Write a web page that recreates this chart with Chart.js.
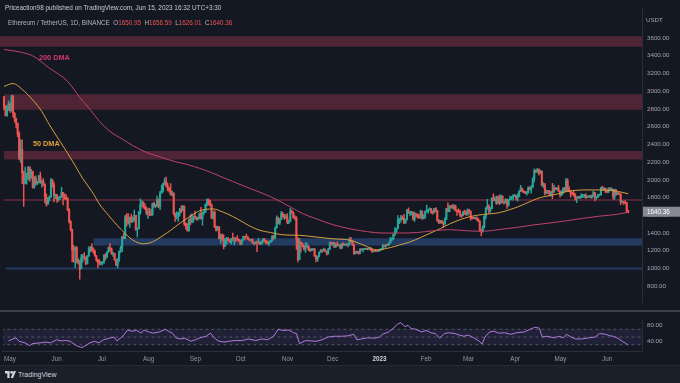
<!DOCTYPE html>
<html><head><meta charset="utf-8">
<script src="https://cdn.jsdelivr.net/npm/chart.js@4.4.1/dist/chart.umd.min.js"></script>
<style>
html,body{margin:0;padding:0;background:#141823;width:680px;height:383px;overflow:hidden;font-family:"Liberation Sans",Arial,sans-serif;}
#wrap{position:relative;width:680px;height:383px;}
#mainBox{position:absolute;left:0;top:0;width:680px;height:311px;}
#rsiBox{position:absolute;left:0;top:312px;width:680px;height:53px;}
#sep{position:absolute;left:0;top:310px;width:680px;height:2px;background:#3c3f48;}
#footer{position:absolute;left:0;top:365px;width:680px;height:18px;background:#1b1f29;border-top:1px solid #262a35;box-sizing:border-box;}
#h1{position:absolute;left:5px;top:4px;font-size:6.4px;color:#c9cbd1;white-space:nowrap;}
#h2{position:absolute;left:8px;top:19px;font-size:6.3px;color:#b2b5be;white-space:nowrap;}
#h2 .r{color:#ef5350;}
#usdt{position:absolute;left:646px;top:16px;font-size:6.2px;color:#a3a6af;}
#tv{position:absolute;left:5px;top:5px;font-size:7px;color:#d1d4dc;display:flex;align-items:center;gap:2px;}
</style></head>
<body><div id="wrap">
<div id="mainBox"><canvas id="main"></canvas></div>
<div id="sep"></div>
<div id="rsiBox"><canvas id="rsi"></canvas></div>
<div id="h1">Priceaction98 published on TradingView.com, Jun 15, 2023 16:32 UTC+3:30</div>
<div id="h2"></div>
<div id="usdt">USDT</div>
<div id="footer"><div id="tv"><svg width="11" height="7" viewBox="0 0 11 7"><path d="M0 0h4.6v7h-2.3v-4.6h-2.3z" fill="#d1d4dc"/><circle cx="6.6" cy="1.4" r="1.4" fill="#d1d4dc"/><path d="M8.6 0h2.4l-2.9 7h-2.4z" fill="#d1d4dc"/></svg><span>TradingView</span></div></div>
</div>
<script>
// ---- DATA (day index 0 = 2022-04-29, last = 2023-06-15) ----
const firstOpen = 2935;
const closes = [
2817,2727,
2825,2857,2782,2940,2748,2694,2636,2518,2243,2342,2080,1961,2014,2056,2145,2023,2090,1914,2018,1960,1975,2043,1972,1978,1943,1804,1725,1793,1812,1996,1942,
1822,1832,1775,1803,1805,1859,1812,1793,1790,1664,1528,1435,1208,1207,1233,1068,1087,995,1127,1127,1124,1051,1143,1225,1242,1198,1192,1143,1098,1067,
1060,1066,1074,1151,1134,1186,1237,1217,1168,1168,1097,1038,1112,1192,1232,1356,1339,1582,1542,1521,1576,1535,1550,1600,1441,1450,1636,1723,1739,1696,1679,
1630,1632,1619,1608,1733,1703,1703,1775,1701,1852,1880,1958,1983,1936,1907,1877,1834,1848,1618,1578,1619,1623,1661,1656,1697,1505,1491,1423,1554,1524,1553,
1587,1577,1557,1576,1617,1563,1629,1635,1717,1778,1763,1715,1573,1637,1471,1434,1470,1336,1378,1324,1254,1328,1328,1316,1294,1335,1331,1337,1334,1328,
1311,1276,1323,1362,1352,1351,1331,1319,1322,1292,1280,1295,1288,1297,1275,1306,1331,1310,1285,1282,1298,1314,1363,1344,1460,1565,1513,1554,1618,1588,1572,
1579,1519,1530,1645,1629,1571,1567,1334,1100,1299,1283,1256,1218,1241,1252,1215,1201,1212,1218,1142,1107,1135,1184,1203,1201,1207,1193,1168,1217,1295,
1276,1293,1241,1280,1259,1270,1232,1281,1264,1265,1263,1274,1319,1308,1266,1166,1187,1186,1169,1216,1211,1216,1219,1221,1218,1226,1212,1189,1200,1199,1196,
1200,1214,1214,1256,1251,1269,1264,1287,1321,1336,1384,1417,1451,1551,1551,1578,1567,1513,1553,1660,1627,1628,1629,1555,1612,1603,1597,1572,1647,1567,1585,
1642,1645,1664,1670,1632,1631,1677,1652,1547,1515,1540,1516,1507,1557,1675,1642,1696,1693,1680,1703,1659,1643,1641,1608,1595,1641,1635,1605,
1663,1647,1569,1566,1564,1565,1561,1533,1438,1429,1472,1591,1679,1703,1656,1676,1792,1764,1784,1735,1805,1741,1818,1750,1741,1776,1713,1774,1792,1795,1821,
1822,1794,1810,1870,1907,1872,1865,1848,1863,1911,1892,1919,2012,2100,2094,2120,2075,2099,1936,1942,1851,1876,1863,1841,1865,1862,1906,1893,1908,1869,
1831,1871,1906,1876,1992,1895,1873,1848,1846,1838,1796,1806,1796,1799,1820,1823,1823,1800,1811,1818,1801,1817,1855,1800,1805,1829,1830,1909,1893,1903,1875,
1863,1908,1892,1892,1813,1888,1832,1848,1838,1751,1752,1742,1738,1650.95,1640.36];
const highs = [
2943,2838,
2837,2891,2868,2955,2952,2759,2696,2640,2541,2452,2450,2100,2145,2077,2150,2143,2118,2100,2036,2045,1986,2055,2088,1998,2013,1955,1839,1797,1820,2016,2003,
1970,1840,1837,1806,1818,1916,1860,1842,1834,1800,1675,1540,1446,1260,1245,1246,1112,1093,1157,1160,1180,1133,1145,1245,1250,1280,1232,1211,1147,1102,
1100,1072,1079,1155,1168,1192,1245,1280,1230,1180,1170,1099,1115,1200,1252,1363,1396,1599,1620,1620,1580,1615,1582,1658,1600,1458,1645,1785,1767,1754,1731,
1695,1676,1682,1666,1737,1749,1725,1816,1785,1869,1942,1962,2020,2030,1964,1914,1958,1873,1855,1626,1640,1629,1680,1706,1713,1706,1515,1508,1560,1604,1616,
1595,1644,1582,1580,1624,1689,1640,1659,1730,1786,1785,1768,1730,1640,1652,1481,1475,1471,1385,1390,1380,1340,1352,1348,1331,1339,1400,1349,1343,1370,
1330,1318,1328,1365,1364,1389,1360,1335,1329,1334,1298,1302,1313,1341,1302,1312,1339,1338,1314,1313,1303,1318,1370,1373,1469,1593,1580,1562,1644,1634,1610,
1609,1620,1545,1680,1661,1640,1598,1587,1345,1341,1300,1287,1265,1291,1290,1260,1229,1225,1225,1225,1147,1140,1185,1213,1205,1230,1223,1197,1227,1300,
1297,1294,1297,1283,1300,1274,1270,1286,1290,1272,1284,1277,1350,1352,1313,1276,1195,1195,1195,1226,1220,1222,1225,1224,1224,1228,1235,1215,1204,1202,1202,
1203,1219,1222,1273,1259,1274,1271,1290,1351,1347,1390,1461,1457,1597,1560,1600,1595,1610,1560,1666,1685,1645,1645,1638,1635,1621,1618,1609,1658,1647,1605,
1650,1716,1671,1685,1680,1650,1680,1687,1655,1548,1543,1544,1527,1574,1677,1742,1712,1711,1722,1720,1715,1660,1674,1659,1612,1643,1659,1647,
1672,1667,1648,1574,1582,1577,1582,1564,1540,1442,1480,1595,1689,1781,1719,1690,1799,1842,1807,1816,1816,1827,1830,1820,1755,1788,1782,1778,1816,1813,1830,
1837,1823,1841,1880,1938,1905,1880,1868,1868,1920,1920,1935,2022,2125,2113,2128,2120,2110,2100,1965,1960,1885,1882,1881,1868,1960,1942,1915,1912,1938,
1875,1878,1910,1916,2018,2010,1924,1875,1860,1875,1842,1808,1815,1818,1846,1832,1833,1846,1818,1822,1825,1832,1872,1858,1812,1838,1835,1918,1926,1915,1907,
1877,1910,1909,1910,1892,1895,1890,1860,1856,1845,1761,1755,1765,1745,1656.59];
const lows = [
2788,2721,
2716,2783,2760,2775,2707,2653,2585,2488,2225,2193,1957,1700,1954,1950,2000,1983,2015,1905,1906,1940,1946,1966,1960,1916,1937,1741,1702,1723,1760,1798,1918,
1752,1788,1745,1760,1780,1802,1717,1779,1777,1651,1512,1423,1075,1070,1010,1060,1048,881,1009,1071,1102,1044,1051,1136,1186,1195,1171,1139,1081,1008,
1040,1040,1041,1058,1098,1120,1182,1197,1160,1137,1092,1033,1006,1076,1180,1190,1335,1335,1480,1500,1462,1521,1519,1535,1430,1356,1447,1610,1695,1680,1666,
1607,1565,1593,1595,1600,1693,1683,1700,1686,1664,1850,1860,1945,1921,1876,1862,1826,1819,1605,1532,1560,1530,1590,1630,1650,1483,1445,1423,1422,1491,1513,
1520,1556,1546,1545,1558,1557,1490,1611,1635,1705,1714,1702,1561,1555,1460,1420,1431,1334,1283,1313,1220,1245,1274,1310,1291,1274,1313,1266,1300,1317,
1305,1266,1270,1320,1321,1345,1324,1310,1309,1285,1265,1277,1190,1284,1268,1274,1295,1299,1278,1274,1254,1295,1308,1327,1336,1455,1506,1495,1550,1578,1553,
1566,1507,1507,1527,1620,1570,1552,1215,1073,1100,1185,1243,1207,1180,1237,1200,1190,1199,1203,1136,1073,1082,1130,1180,1180,1195,1192,1150,1163,1215,
1263,1261,1239,1240,1254,1251,1221,1225,1261,1260,1262,1242,1263,1295,1260,1160,1164,1175,1160,1167,1204,1187,1212,1217,1210,1215,1202,1180,1186,1189,1194,
1193,1195,1208,1213,1242,1237,1262,1261,1285,1312,1325,1369,1403,1450,1505,1522,1552,1505,1509,1544,1620,1596,1603,1545,1530,1583,1567,1566,1568,1554,1560,
1566,1636,1620,1655,1621,1614,1627,1640,1530,1505,1512,1508,1461,1491,1552,1640,1638,1682,1678,1661,1648,1600,1630,1585,1575,1592,1614,1604,
1602,1622,1544,1556,1561,1555,1545,1530,1422,1368,1409,1456,1560,1665,1625,1635,1673,1762,1762,1723,1732,1721,1735,1740,1725,1740,1678,1702,1774,1774,1770,
1811,1773,1758,1806,1866,1860,1855,1843,1828,1846,1887,1850,1915,1980,2081,2084,2052,2071,1930,1911,1830,1843,1843,1818,1815,1788,1857,1885,1886,1868,
1805,1821,1842,1867,1875,1866,1871,1805,1830,1815,1772,1742,1793,1787,1795,1800,1802,1791,1795,1804,1796,1790,1811,1761,1778,1799,1818,1827,1883,1882,1856,
1852,1855,1887,1881,1782,1780,1824,1832,1832,1720,1740,1723,1730,1630,1626.01];

const ma200Day = [0,11,19,30,42,50,57,63,70,78,85,94,103,113,121,129,136,144,151,162,176,189,197,207,217,228,240,250,261,273,283,294,306,316,327,339,349,360,372,382,393,405,412];
const ma200Val = [3470,3440,3398,3260,3110,2930,2790,2660,2546,2460,2386,2310,2258,2205,2173,2130,2088,2030,1981,1905,1810,1694,1620,1555,1495,1449,1415,1400,1400,1406,1425,1438,1425,1420,1440,1465,1490,1513,1540,1566,1590,1612,1635];
const ma50Day = [0,6,12,19,25,30,36,42,47,52,58,63,69,75,80,85,92,98,103,108,113,118,124,129,138,144,151,157,162,169,176,184,195,207,217,228,235,240,246,255,261,268,275,281,288,294,301,308,316,327,333,339,344,349,354,360,365,372,382,393,400,405,412];
const ma50Val = [3054,3086,3020,2900,2770,2620,2460,2300,2160,2013,1870,1726,1600,1481,1395,1321,1278,1300,1350,1406,1470,1534,1600,1650,1672,1640,1587,1530,1481,1430,1406,1380,1374,1353,1335,1321,1280,1246,1210,1236,1265,1300,1350,1396,1450,1502,1550,1587,1609,1630,1660,1694,1730,1768,1800,1822,1840,1870,1886,1886,1880,1870,1843];

const rsiDay = [1,4,6,8,12,15,17,22,26,29,33,36,39,42,46,49,51,55,58,61,64,68,71,73,77,80,83,86,89,91,94,97,101,105,107,110,112,115,118,122,125,128,132,135,137,140,144,147,151,156,160,165,169,173,177,180,183,187,190,192,194,198,202,205,209,213,217,222,226,230,232,235,239,244,247,249,253,256,259,261,264,266,268,271,275,278,281,284,287,290,293,297,300,303,306,310,313,315,317,320,323,326,330,334,338,343,347,350,353,355,358,363,366,369,371,374,377,381,386,390,393,397,400,402,405,408,411,412];
const rsiVal = [40,45,48,39,35,28,33,35,37,35,43,40,41,39,28,23,25,35,39,35,43,47,50,40,53,68,65,67,60,68,63,60,63,70,65,59,48,45,47,39,43,48,52,60,50,40,37,39,41,41,45,41,45,43,53,70,67,68,61,59,33,41,40,39,43,50,52,52,53,57,43,45,48,47,50,57,63,72,83,87,77,80,72,70,63,67,61,59,47,59,61,59,55,52,55,47,40,32,50,63,65,60,61,57,61,63,70,75,73,50,52,48,52,48,57,50,45,45,48,50,59,57,53,52,47,39,32,30];

const zoneLow  = [3500,2790,2230,1760,1260,990];
const zoneHigh = [3620,2965,2325,1785,1340,1010];
const zoneFrom = [-3,0,0,0,59,1];
const zoneKind = ['res','res','res','res','sup','sup'];

const priceTicks = [800,1000,1200,1400,1600,1800,2000,2200,2400,2600,2800,3000,3200,3400,3600];
const rsiTicks = [40,80];
const rsiLevels = [70,50,30];
const monthTickDays = [2,33,63,94,125,155,186,216,247,278,306,337,367,398];
const monthTickLabels = ['May','Jun','Jul','Aug','Sep','Oct','Nov','Dec','2023','Feb','Mar','Apr','May','Jun'];

// ---- view ----
const X_MIN = -2.64, X_MAX = 421.1;
const FONT = '"Liberation Sans", Arial, sans-serif';
const UP = '#26a69a', DOWN = '#ef5350';
Chart.defaults.font.family = FONT;

const n = closes.length;
const opens = closes.map((c,i)=> i===0 ? firstOpen : closes[i-1]);
const candleColors = closes.map((c,i)=> c >= opens[i] ? UP : DOWN);
const last = n-1;

document.getElementById('h2').innerHTML =
  'Ethereum / TetherUS, 1D, BINANCE&nbsp; O<span class="r">'+opens[last].toFixed(2)+'</span>&nbsp; H<span class="r">'+highs[last].toFixed(2)+
  '</span>&nbsp; L<span class="r">'+lows[last].toFixed(2)+'</span>&nbsp; C<span class="r">'+closes[last].toFixed(2)+'</span>';

const zoneDatasets = zoneLow.map((lo,k)=>({
  type:'line', data:[{x:zoneFrom[k],y:zoneHigh[k]},{x:X_MAX+5,y:zoneHigh[k]}],
  fill:{value:lo}, backgroundColor: zoneKind[k]==='res' ? '#4f2434' : '#243b61',
  borderColor:'transparent', borderWidth:0, pointRadius:0, order:10
}));

const overlay = {
  id:'overlay',
  afterDatasetsDraw(chart){
    const {ctx, scales:{x,y}} = chart;
    ctx.save();
    ctx.font = 'bold 7.3px '+FONT;
    ctx.textBaseline='middle'; ctx.textAlign='left';
    ctx.fillStyle = '#d2386d';
    ctx.fillText('200 DMA', x.getPixelForValue(23.1), y.getPixelForValue(3373));
    ctx.fillStyle = '#e3a03c';
    ctx.fillText('50 DMA', x.getPixelForValue(19.1), y.getPixelForValue(2404));
    ctx.restore();
  },
  afterDraw(chart){
    const {ctx, scales:{y}, chartArea} = chart;
    const py = y.getPixelForValue(closes[last]);
    ctx.save();
    ctx.fillStyle = '#878a94';
    ctx.fillRect(chartArea.right+1, py-5, 37, 10);
    ctx.fillStyle = '#ffffff';
    ctx.font = '6.3px '+FONT;
    ctx.textBaseline='middle'; ctx.textAlign='left';
    ctx.fillText(closes[last].toFixed(2), chartArea.right+5, py+0.5);
    ctx.restore();
  }
};

new Chart(document.getElementById('main'), {
  type:'bar',
  data:{datasets:[
    ...zoneDatasets,
    {type:'line', data:ma200Day.map((d,k)=>({x:d,y:ma200Val[k]})), borderColor:'#c0446a', borderWidth:1, pointRadius:0, tension:0.4, cubicInterpolationMode:'monotone', fill:false, order:1},
    {type:'line', data:ma50Day.map((d,k)=>({x:d,y:ma50Val[k]})), borderColor:'#d8a040', borderWidth:1, pointRadius:0, tension:0.4, cubicInterpolationMode:'monotone', fill:false, order:1},
    {type:'bar', data:closes.map((c,i)=>({x:i,y:[lows[i],highs[i]]})), backgroundColor:candleColors, barThickness:0.8, grouped:false, order:3},
    {type:'bar', data:closes.map((c,i)=>({x:i,y:[opens[i],c]})), backgroundColor:candleColors, barThickness:1.4, minBarLength:1, grouped:false, order:2}
  ]},
  options:{
    responsive:true, maintainAspectRatio:false, animation:false, events:[],
    layout:{padding:0, autoPadding:false},
    plugins:{legend:{display:false}, tooltip:{enabled:false}},
    scales:{
      x:{type:'linear', min:X_MIN, max:X_MAX, offset:false, display:false},
      y:{position:'right', min:619, max:3930,
        afterFit(s){ s.width = 38; },
        afterBuildTicks(s){ s.ticks = priceTicks.map(v=>({value:v})); },
        grid:{display:false, drawTicks:false},
        border:{display:true, color:'#2a2e39'},
        ticks:{padding:5, color:'#a3a6af', font:{size:6.2}, autoSkip:false, callback:v=>Number(v).toFixed(2)}
      }
    }
  },
  plugins:[overlay]
});

new Chart(document.getElementById('rsi'), {
  type:'line',
  data:{datasets:[
    {data:[{x:X_MIN-5,y:70},{x:X_MAX+5,y:70}], fill:{value:30}, backgroundColor:'rgba(126,87,194,0.12)', borderColor:'transparent', borderWidth:0, pointRadius:0, order:6},
    ...rsiLevels.map(v=>({data:[{x:X_MIN-5,y:v},{x:X_MAX+5,y:v}], borderColor:'rgba(120,123,134,0.6)', borderWidth:1, borderDash:[3,3], pointRadius:0, fill:false, order:5})),
    {data:rsiDay.map((d,k)=>({x:d,y:rsiVal[k]})), borderColor:'#b07dd9', borderWidth:1, pointRadius:0, tension:0, fill:false, order:0}
  ]},
  options:{
    responsive:true, maintainAspectRatio:false, animation:false, events:[],
    layout:{padding:0, autoPadding:false},
    plugins:{legend:{display:false}, tooltip:{enabled:false}},
    scales:{
      x:{type:'linear', min:X_MIN, max:X_MAX, offset:false,
        afterFit(s){ s.height = 14; },
        afterBuildTicks(s){ s.ticks = monthTickDays.map(v=>({value:v})); },
        grid:{display:false, drawTicks:false},
        border:{display:true, color:'#2a2e39'},
        ticks:{padding:4, autoSkip:false, maxRotation:0, minRotation:0,
          color:(c)=> c.index===8 ? '#d1d4dc' : '#9598a1',
          font:(c)=> ({size:6.3, weight: c.index===8 ? 'bold' : 'normal'}),
          callback:(v,i)=> monthTickLabels[i]}
      },
      y:{position:'right', min:14, max:92,
        afterFit(s){ s.width = 38; },
        afterBuildTicks(s){ s.ticks = rsiTicks.map(v=>({value:v})); },
        grid:{display:false, drawTicks:false},
        border:{display:true, color:'#2a2e39'},
        ticks:{padding:5, color:'#a3a6af', font:{size:6.2}, callback:v=>Number(v).toFixed(2)}
      }
    }
  }
});
</script>
</body></html>
